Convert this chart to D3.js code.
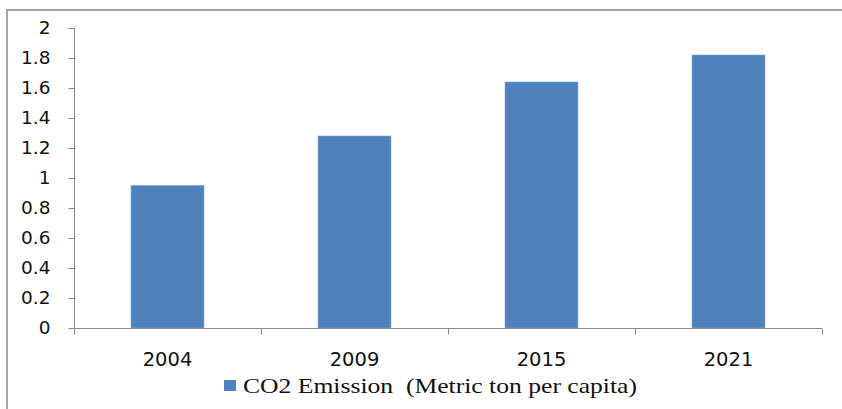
<!DOCTYPE html>
<html>
<head>
<meta charset="utf-8">
<script src="https://cdn.jsdelivr.net/npm/d3@7"></script>
<style>
  html, body { margin: 0; padding: 0; background: #fff; }
  svg { display: block; }
</style>
</head>
<body>
<svg id="chart" width="842" height="409"></svg>
<script>
const categories = ["2004", "2009", "2015", "2021"];
const values = [0.95, 1.28, 1.64, 1.82];
const yTicks = [0, 0.2, 0.4, 0.6, 0.8, 1, 1.2, 1.4, 1.6, 1.8, 2];
const seriesName = "CO2 Emission  (Metric ton per capita)";

const svg = d3.select("#chart");
const W = 842, H = 409;
const m = { left: 74, right: 20, top: 28, bottom: 81 };
const axisColor = "#8a8a8a";
const barColor = "#4F81BD";

// outer border
svg.append("path")
  .attr("d", `M7,${H} L7,10 L${W},10`)
  .attr("fill", "none").attr("stroke", "#a6a6a6").attr("stroke-width", 2);

const x = d3.scaleBand().domain(categories).range([74, 822]).paddingInner(0.61).paddingOuter(0.305);
const y = d3.scaleLinear().domain([0, 2]).range([328, 28]);

// bars
svg.append("g").selectAll("rect").data(values).join("rect")
  .attr("x", (d, i) => x(categories[i]))
  .attr("width", x.bandwidth())
  .attr("y", d => y(d))
  .attr("height", d => y(0) - y(d))
  .attr("fill", barColor)
  .attr("stroke", "#7ea3d3").attr("stroke-width", 0.6);

// y axis
const yAxis = svg.append("g").attr("transform", "translate(74.5,0)")
  .call(d3.axisLeft(y).tickValues(yTicks).tickSize(6).tickPadding(18).tickFormat(d => String(+d.toFixed(1))));
yAxis.select(".domain").attr("stroke", axisColor).attr("d", "M0,28V328");
yAxis.selectAll(".tick line").attr("stroke", axisColor);
yAxis.selectAll("text").attr("fill", "#111").attr("font-family", "DejaVu Sans").attr("font-size", 18.5);
yAxis.attr("font-family", null).attr("font-size", null);

// x axis
const xb = d3.scaleLinear().domain([0, categories.length]).range([74, 822]);
const xAxisG = svg.append("g").attr("transform", "translate(0,328.5)");
xAxisG.append("line").attr("x1", 74).attr("x2", 822).attr("stroke", axisColor);
xAxisG.selectAll("line.tk").data(d3.range(categories.length + 1)).join("line")
  .attr("class", "tk")
  .attr("x1", d => Math.round(xb(d)) + 0.5).attr("x2", d => Math.round(xb(d)) + 0.5)
  .attr("y1", 0).attr("y2", 6).attr("stroke", axisColor);
xAxisG.selectAll("text").data(categories).join("text")
  .attr("x", d => x(d) + x.bandwidth() / 2)
  .attr("y", 37.5)
  .attr("text-anchor", "middle")
  .attr("font-family", "DejaVu Sans").attr("font-size", 19.5).attr("fill", "#111")
  .text(d => d);

// legend
const lg = svg.append("g");
lg.append("rect").attr("x", 224).attr("y", 380).attr("width", 12).attr("height", 11).attr("fill", barColor);
lg.append("text").attr("x", 243).attr("y", 393)
  .attr("font-family", "Liberation Serif").attr("font-size", 21).attr("fill", "#111")
  .attr("textLength", 394).attr("lengthAdjust", "spacingAndGlyphs")
  .attr("xml:space", "preserve")
  .text(seriesName);
</script>
</body>
</html>
